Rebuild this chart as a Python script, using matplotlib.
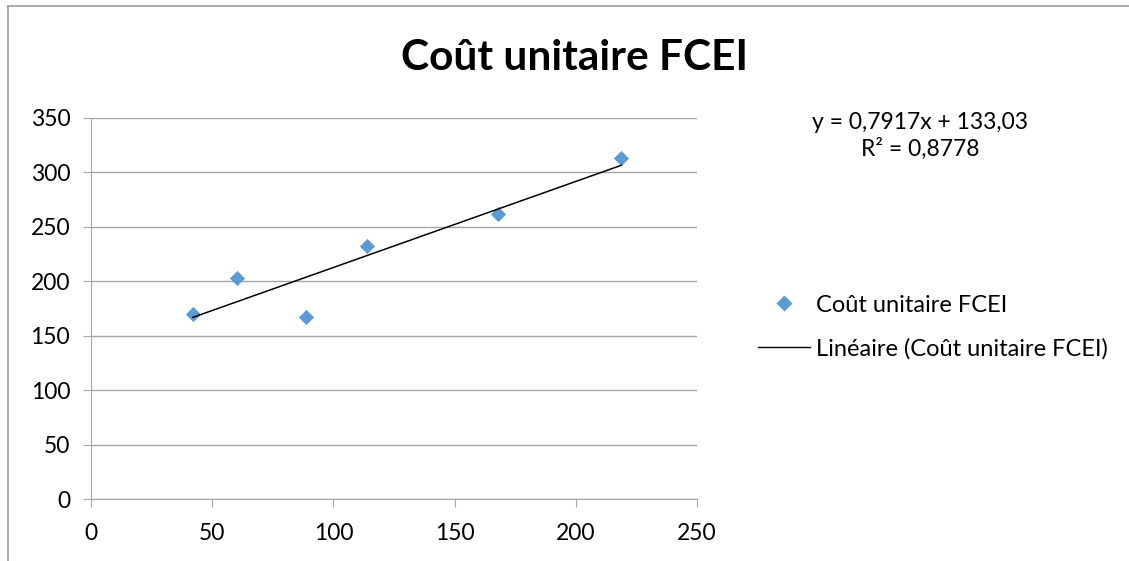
import numpy as np
import matplotlib
matplotlib.use("Agg")
import matplotlib.pyplot as plt
from matplotlib.lines import Line2D

plt.rcParams['font.family'] = ['Lato', 'DejaVu Sans']

# data
x_vals = [42.0, 60.1, 88.7, 113.9, 168.0, 218.8]
y_vals = [169.6, 203.4, 167.4, 232.6, 261.9, 313.5]
series_name = "Coût unitaire FCEI"
trend_name = "Linéaire (Coût unitaire FCEI)"
equation = "y = 0,7917x + 133,03\nR² = 0,8778"
x_ticks = [0, 50, 100, 150, 200, 250]
y_ticks = [0, 50, 100, 150, 200, 250, 300, 350]

fig = plt.figure(figsize=(11.29, 5.61), dpi=100)
ax = fig.add_axes([91/1129, 1-499/561, (697-91)/1129, (499-118)/561])

grid_col = "#A6A6A6"
blue = "#5B9BD5"

ax.scatter(x_vals, y_vals, marker="D", s=60, color=blue, zorder=3, linewidths=0)
slope, icpt = np.polyfit(x_vals, y_vals, 1)
xs = np.array([min(x_vals), max(x_vals)])
ax.plot(xs, slope*xs + icpt, color="black", lw=1.1, zorder=4)

ax.set_xlim(0, 250)
ax.set_ylim(0, 350)
ax.set_xticks(x_ticks)
ax.set_yticks(y_ticks)
ax.yaxis.grid(True, color=grid_col, lw=1)
ax.set_axisbelow(True)
for s in ["top", "right"]:
    ax.spines[s].set_visible(False)
for s in ["left", "bottom"]:
    ax.spines[s].set_color(grid_col)
ax.tick_params(direction="out", length=6, color=grid_col, labelsize=16.5)
ax.tick_params(axis="y", pad=9)
ax.tick_params(axis="x", pad=11)

fig.text(0.509, 1-58/561, series_name, ha="center", va="center",
         fontsize=30.5, fontweight="bold")
fig.text(920/1129, 1-136/561, equation, ha="center", va="center",
         fontsize=16.5, linespacing=1.25, multialignment="center")

handles = [Line2D([], [], marker="D", ls="none", color=blue, markersize=8, mec="none"),
           Line2D([], [], color="black", lw=1)]
fig.legend(handles, [series_name, trend_name], loc="center left",
           bbox_to_anchor=(758/1129, 1-327/561), frameon=False, fontsize=17,
           borderpad=0, borderaxespad=0, handlelength=2.2,
           handletextpad=0.26, labelspacing=0.95)

# chart area border (left and top only)
fig.add_artist(Line2D([8/1129, 8/1129], [0, 1-6/561], color="#9A9A9A", lw=1.2))
fig.add_artist(Line2D([8/1129, 1], [1-6/561, 1-6/561], color="#9A9A9A", lw=1.2))

fig.savefig("out.png", dpi=100)
